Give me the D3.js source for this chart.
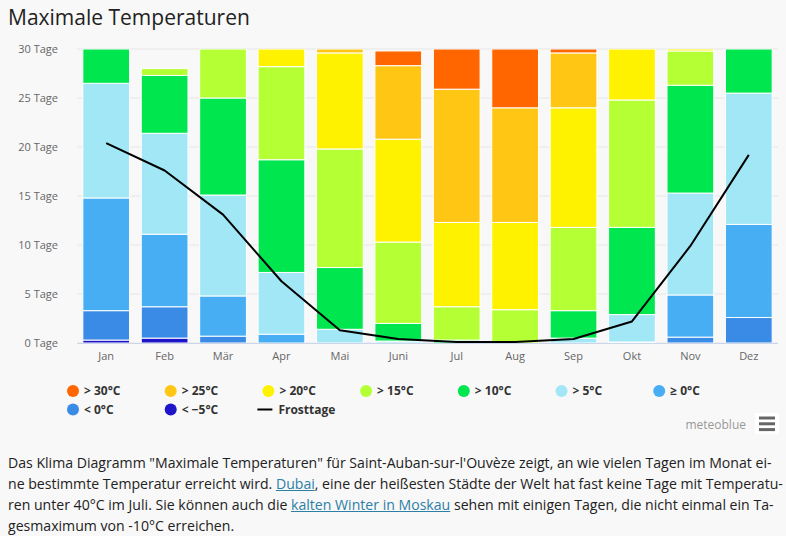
<!DOCTYPE html>
<html>
<head>
<meta charset="utf-8">
<script src="https://cdn.jsdelivr.net/npm/d3@7"></script>
<style>
  body { margin: 0; background: #f8f8f8; font-family: "Open Sans", "Noto Sans", sans-serif; }
  #chart { display: block; }
  #desc { position: absolute; left: 8px; top: 452px; font-size: 14.1px; line-height: 21px; color: #222; }
  #desc div { white-space: nowrap; }
  #desc a { color: #2d7fa6; text-decoration: underline; }
</style>
</head>
<body>
<svg id="chart" width="786" height="440"></svg>
<div id="desc">
  <div>Das Klima Diagramm "Maximale Temperaturen" für Saint-Auban-sur-l'Ouvèze zeigt, an wie vielen Tagen im Monat ei-</div>
  <div>ne bestimmte Temperatur erreicht wird. <a href="#">Dubai</a>, eine der heißesten Städte der Welt hat fast keine Tage mit Temperatu-</div>
  <div>ren unter 40°C im Juli. Sie können auch die <a href="#">kalten Winter in Moskau</a> sehen mit einigen Tagen, die nicht einmal ein Ta-</div>
  <div>gesmaximum von -10°C erreichen.</div>
</div>
<script>
// months and day counts per temperature class (bottom to top)
const months = ["Jan", "Feb", "Mär", "Apr", "Mai", "Juni", "Jul", "Aug", "Sep", "Okt", "Nov", "Dez"];
const belowMinus5 = [0.3, 0.5, 0, 0, 0, 0, 0, 0, 0, 0, 0, 0];
const below0 = [3.0, 3.2, 0.7, 0, 0, 0, 0, 0, 0, 0, 0.6, 2.6];
const above0 = [11.5, 7.4, 4.1, 0.9, 0, 0, 0, 0, 0, 0.1, 4.3, 9.5];
const above5 = [11.7, 10.3, 10.3, 6.3, 1.4, 0.2, 0, 0, 0.5, 2.8, 10.4, 13.4];
const above10 = [3.5, 5.9, 9.9, 11.5, 6.3, 1.8, 0.3, 0, 2.8, 8.9, 11.0, 4.5];
const above15 = [0, 0.7, 5.0, 9.5, 12.1, 8.3, 3.4, 3.4, 8.5, 13.0, 3.5, 0];
const above20 = [0, 0, 0, 1.8, 9.8, 10.5, 8.6, 8.9, 12.2, 5.2, 0.2, 0];
const above25 = [0, 0, 0, 0, 0.4, 7.5, 13.6, 11.7, 5.6, 0, 0, 0];
const above30 = [0, 0, 0, 0, 0, 1.5, 4.1, 6.0, 0.4, 0, 0, 0];
const frostDays = [20.4, 17.6, 13.1, 6.3, 1.3, 0.4, 0.1, 0.1, 0.4, 2.2, 9.9, 19.2];
const yTicks = [0, 5, 10, 15, 20, 25, 30];

// stack order (bottom first)
const series = [
  { key: "m5", name: "< −5°C", color: "#1e14c8", values: belowMinus5 },
  { key: "b0", name: "< 0°C", color: "#3a8be6", values: below0 },
  { key: "a0", name: "≥ 0°C", color: "#47aef3", values: above0 },
  { key: "a5", name: "> 5°C", color: "#a2e7f6", values: above5 },
  { key: "a10", name: "> 10°C", color: "#00e64f", values: above10 },
  { key: "a15", name: "> 15°C", color: "#b5ff35", values: above15 },
  { key: "a20", name: "> 20°C", color: "#fff200", values: above20 },
  { key: "a25", name: "> 25°C", color: "#ffc614", values: above25 },
  { key: "a30", name: "> 30°C", color: "#ff6600", values: above30 }
];

const svg = d3.select("#chart");
const margin = { top: 49, right: 8, bottom: 193, left: 77 };
const width = 786, height = 536;

// title
svg.append("text")
  .attr("x", 8).attr("y", 25)
  .attr("fill", "#222")
  .style("font-size", "21px")
  .text("Maximale Temperaturen");

const x = d3.scaleBand()
  .domain(months)
  .range([margin.left, width - margin.right])
  .paddingInner(0.2)
  .paddingOuter(0.1);

const y = d3.scaleLinear()
  .domain([0, 30])
  .range([height - margin.bottom, margin.top]);

// gridlines
svg.append("g")
  .selectAll("line")
  .data(yTicks)
  .join("line")
  .attr("x1", margin.left).attr("x2", width - margin.right)
  .attr("y1", d => y(d)).attr("y2", d => y(d))
  .attr("stroke", "#e6e6e6");

// y axis labels
svg.append("g")
  .attr("transform", `translate(${margin.left - 16},0)`)
  .call(d3.axisLeft(y).tickValues(yTicks).tickSize(0).tickFormat(d => d + " Tage"))
  .call(g => g.select(".domain").remove())
  .selectAll("text")
  .attr("fill", "#666")
  .style("font-size", "11px")
  .style("font-family", "'Open Sans', sans-serif");

// stacked bars
const table = months.map((m, i) => {
  const row = { month: m };
  series.forEach(s => row[s.key] = s.values[i]);
  return row;
});
const stack = d3.stack().keys(series.map(s => s.key))(table);

svg.append("clipPath").attr("id", "plotclip")
  .append("rect")
  .attr("x", margin.left).attr("y", margin.top)
  .attr("width", width - margin.left - margin.right)
  .attr("height", y(0) - margin.top);

const bars = svg.append("g").attr("clip-path", "url(#plotclip)");
bars.selectAll("g")
  .data(stack)
  .join("g")
  .attr("fill", (d, i) => series[i].color)
  .selectAll("rect")
  .data(d => d.filter(p => p[1] - p[0] > 0))
  .join("rect")
  .attr("x", d => x(d.data.month))
  .attr("width", x.bandwidth())
  .attr("y", d => y(d[1]))
  .attr("height", d => y(d[0]) - y(d[1]))
  .attr("stroke", "#fff")
  .attr("stroke-width", 1);

// x axis
svg.append("g")
  .attr("transform", `translate(0,${y(0)})`)
  .call(d3.axisBottom(x).tickSize(0).tickPadding(9))
  .call(g => g.select(".domain").attr("stroke", "#ccd6eb").attr("d", `M${margin.left},0.5H${width - margin.right}`))
  .selectAll("text")
  .attr("fill", "#666")
  .style("font-size", "11px")
  .style("font-family", "'Open Sans', sans-serif");

// frost days line
const line = d3.line()
  .x((d, i) => x(months[i]) + x.bandwidth() / 2)
  .y(d => y(d));

svg.append("path")
  .datum(frostDays)
  .attr("fill", "none")
  .attr("stroke", "#000")
  .attr("stroke-width", 2)
  .attr("stroke-linejoin", "round")
  .attr("d", line);

// legend: warm to cold, then the line
const legendItems = series.slice().reverse().map(s => ({ name: s.name, color: s.color, type: "dot" }));
legendItems.push({ name: "Frosttage", color: "#000", type: "line" });

const legend = svg.append("g").attr("transform", "translate(73,391)");
const item = legend.selectAll("g")
  .data(legendItems)
  .join("g")
  .attr("transform", (d, i) => `translate(${(i % 7) * 97.7},${Math.floor(i / 7) * 18.5})`);

item.filter(d => d.type === "dot")
  .append("circle")
  .attr("r", 6)
  .attr("fill", d => d.color);

item.filter(d => d.type === "line")
  .append("line")
  .attr("x1", -11).attr("x2", 4)
  .attr("stroke", d => d.color)
  .attr("stroke-width", 2);

item.append("text")
  .attr("x", d => d.type === "line" ? 10 : 11)
  .attr("dy", "0.35em")
  .attr("fill", "#333")
  .style("font-size", "12px")
  .style("font-weight", "bold")
  .text(d => d.name);

// credits and menu icon
svg.append("text")
  .attr("x", 746).attr("y", 429)
  .attr("text-anchor", "end")
  .attr("fill", "#999")
  .style("font-size", "12px")
  .text("meteoblue");

const menu = svg.append("g");
menu.append("rect")
  .attr("x", 755).attr("y", 413).attr("width", 24).attr("height", 21)
  .attr("fill", "#fff");
menu.selectAll("line")
  .data([0, 1, 2])
  .join("line")
  .attr("x1", 759).attr("x2", 775)
  .attr("y1", d => 418 + d * 5.8).attr("y2", d => 418 + d * 5.8)
  .attr("stroke", "#666")
  .attr("stroke-width", 3);
</script>
</body>
</html>
